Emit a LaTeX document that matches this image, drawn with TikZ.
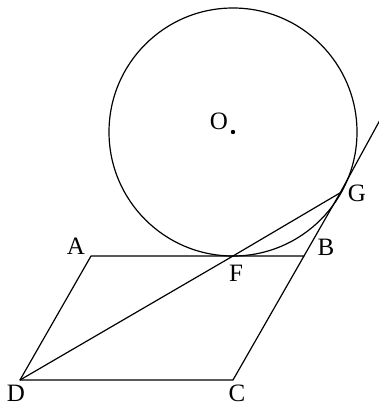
\documentclass[tikz,border=0pt]{standalone}
\usepackage{fontspec}
\setmainfont{Liberation Serif}
\begin{document}
\begin{tikzpicture}[x=1pt,y=-1pt,
  geo/.style={line width=1.2pt,line join=round},
  lbl/.style={font=\fontsize{25}{25}\selectfont,inner sep=0pt}]
\useasboundingbox (0,0) rectangle (379,407);
\clip (0,0) rectangle (379,407);
% points
\coordinate (O) at (233,132);
\coordinate (A) at (91,256);
\coordinate (B) at (304,256);
\coordinate (C) at (233,380);
\coordinate (D) at (20,380);
\coordinate (F) at (233,256);
\coordinate (G) at (340.2,192.8);
\coordinate (E) at (383,114.5);
% circle
\draw[geo] (O) circle[radius=124];
\fill (O) circle[radius=2.2];
% parallelogram
\draw[geo] (A) -- (B) -- (C) -- (D) -- cycle;
% lines
\draw[geo] (D) -- (F) -- (G);
\draw[geo] (B) -- (G) -- (E);
% labels
\node[lbl] (lO) at (219,121) {O};
\node[lbl] (lA) at (76,246) {A};
\node[lbl] (lB) at (326,247) {B};
\node[lbl] (lC) at (237,393) {C};
\node[lbl] (lD) at (16,393) {D};
\node[lbl] (lF) at (236,273) {F};
\node[lbl] (lG) at (357,193) {G};
\end{tikzpicture}
\end{document}
